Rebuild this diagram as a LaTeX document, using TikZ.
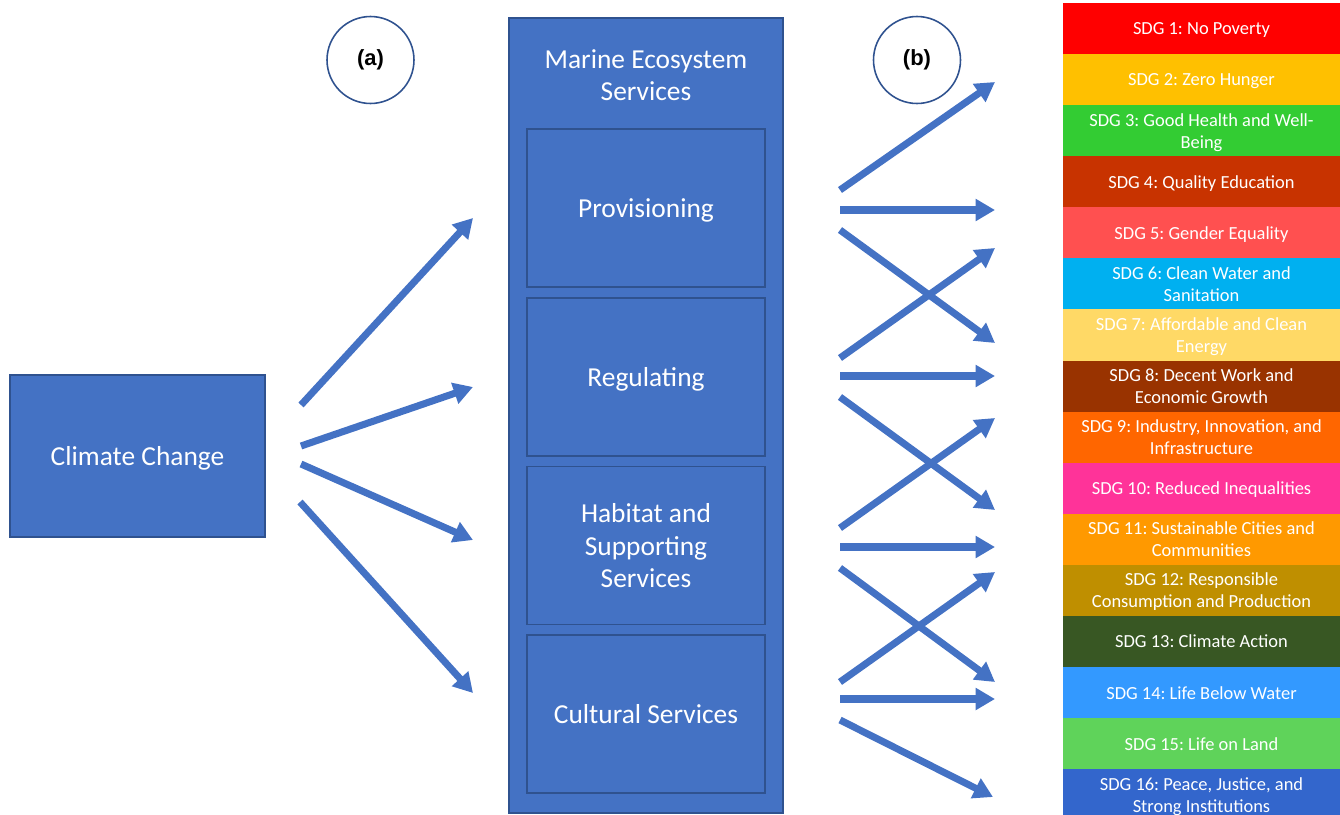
\documentclass[tikz,border=0pt]{standalone}
\usepackage{fontspec}
\setmainfont{Carlito}
\newfontfamily\arialfont{Liberation Sans}
\usetikzlibrary{arrows.meta,positioning}
\frenchspacing

\definecolor{boxblue}{HTML}{4472C4}
\definecolor{edgeblue}{HTML}{2F528F}
\definecolor{sdgone}{HTML}{FF0000}
\definecolor{sdgtwo}{HTML}{FFC000}
\definecolor{sdgthree}{HTML}{33CC33}
\definecolor{sdgfour}{HTML}{C83300}
\definecolor{sdgfive}{HTML}{FF5050}
\definecolor{sdgsix}{HTML}{00B0F0}
\definecolor{sdgseven}{HTML}{FFD966}
\definecolor{sdgeight}{HTML}{993300}
\definecolor{sdgnine}{HTML}{FF6600}
\definecolor{sdgten}{HTML}{FF3399}
\definecolor{sdgeleven}{HTML}{FF9900}
\definecolor{sdgtwelve}{HTML}{BF8F00}
\definecolor{sdgthirteen}{HTML}{385723}
\definecolor{sdgfourteen}{HTML}{3399FF}
\definecolor{sdgfifteen}{HTML}{5FD35A}
\definecolor{sdgsixteen}{HTML}{3366CC}

\begin{document}
\begin{tikzpicture}[x=0.02cm, y=-0.02cm, node distance=0pt,
    box/.style={rectangle, draw=edgeblue, fill=boxblue, text=white, line width=0.8pt, align=center, text depth=0pt, font=\fontsize{15.6}{18.7}\selectfont},
    tag/.style={circle, draw=edgeblue, line width=0.9pt, minimum size=1.74cm, font=\arialfont\bfseries\fontsize{12.5}{15}\selectfont},
    sdg/.style={rectangle, minimum width=5.54cm, minimum height=1.022cm, inner sep=0pt, outer sep=0pt, text=white, align=center, text depth=0pt, font=\fontsize{10.5}{12.5}\selectfont},
    flow/.style={draw=boxblue, line width=4pt, -{Triangle[length=11pt,width=12pt]}}]

    \useasboundingbox (0,0) rectangle (1340,815);

    \node[box, minimum width=5.1cm, minimum height=3.24cm] at (137.5, 456) (climate) {Climate Change};

    \node[tag] at (370.5, 60) (taga) {(a)};
    \node[tag] at (917, 60) (tagb) {(b)};

    \node[box, minimum width=5.48cm, minimum height=15.9cm] at (646, 415.5) (mes) {};
    \node[text=white, align=center, text depth=0pt, font=\fontsize{15.6}{18.7}\selectfont] at (646, 75) (mestitle) {Marine Ecosystem\\Services};
    \node[box, minimum width=4.76cm, minimum height=3.16cm] at (646, 208) (prov) {Provisioning};
    \node[box, minimum width=4.76cm, minimum height=3.16cm] at (646, 377) (reg) {Regulating};
    \node[box, minimum width=4.76cm, minimum height=3.16cm] at (646, 545.5) (hab) {Habitat and\\Supporting\\Services};
    \node[box, minimum width=4.76cm, minimum height=3.16cm] at (646, 714) (cult) {Cultural Services};

    \node[sdg, fill=sdgone] at (1201.5, 28.45) (sdg1) {SDG 1: No Poverty};
    \node[sdg, fill=sdgtwo, below=of sdg1] (sdg2) {SDG 2: Zero Hunger};
    \node[sdg, fill=sdgthree, below=of sdg2] (sdg3) {SDG 3: Good Health and Well-\\Being};
    \node[sdg, fill=sdgfour, below=of sdg3] (sdg4) {SDG 4: Quality Education};
    \node[sdg, fill=sdgfive, below=of sdg4] (sdg5) {SDG 5: Gender Equality};
    \node[sdg, fill=sdgsix, below=of sdg5] (sdg6) {SDG 6: Clean Water and\\Sanitation};
    \node[sdg, fill=sdgseven, below=of sdg6] (sdg7) {SDG 7: Affordable and Clean\\Energy};
    \node[sdg, fill=sdgeight, below=of sdg7] (sdg8) {SDG 8: Decent Work and\\Economic Growth};
    \node[sdg, fill=sdgnine, below=of sdg8] (sdg9) {SDG 9: Industry, Innovation, and\\Infrastructure};
    \node[sdg, fill=sdgten, below=of sdg9] (sdg10) {SDG 10: Reduced Inequalities};
    \node[sdg, fill=sdgeleven, below=of sdg10] (sdg11) {SDG 11: Sustainable Cities and\\Communities};
    \node[sdg, fill=sdgtwelve, below=of sdg11] (sdg12) {SDG 12: Responsible\\Consumption and Production};
    \node[sdg, fill=sdgthirteen, below=of sdg12] (sdg13) {SDG 13: Climate Action};
    \node[sdg, fill=sdgfourteen, below=of sdg13] (sdg14) {SDG 14: Life Below Water};
    \node[sdg, fill=sdgfifteen, below=of sdg14] (sdg15) {SDG 15: Life on Land};
    \node[sdg, fill=sdgsixteen, below=of sdg15] (sdg16) {SDG 16: Peace, Justice, and\\Strong Institutions};

    % climate change -> services
    \coordinate (cc1) at (301, 405);
    \coordinate (cc2) at (301, 446);
    \coordinate (cc3) at (301, 464);
    \coordinate (cc4) at (300, 502);
    \coordinate (sv1) at (473, 218);
    \coordinate (sv2) at (473, 387);
    \coordinate (sv3) at (473, 540);
    \coordinate (sv4) at (473, 693);

    \path (cc1) edge[flow] (sv1);
    \path (cc2) edge[flow] (sv2);
    \path (cc3) edge[flow] (sv3);
    \path (cc4) edge[flow] (sv4);

    % services -> goals
    \coordinate (os1) at (840, 190);
    \coordinate (os2) at (840, 210);
    \coordinate (os3) at (840, 230);
    \coordinate (os4) at (840, 358);
    \coordinate (os5) at (840, 376);
    \coordinate (os6) at (840, 397);
    \coordinate (os7) at (840, 528);
    \coordinate (os8) at (840, 547);
    \coordinate (os9) at (840, 568);
    \coordinate (os10) at (840, 682);
    \coordinate (os11) at (840, 699);
    \coordinate (os12) at (840, 720);
    \coordinate (og1) at (995, 82);
    \coordinate (og2) at (995, 210);
    \coordinate (og3) at (995, 343);
    \coordinate (og4) at (995, 248);
    \coordinate (og5) at (995, 376);
    \coordinate (og6) at (995, 510);
    \coordinate (og7) at (995, 418);
    \coordinate (og8) at (995, 547);
    \coordinate (og9) at (995, 682);
    \coordinate (og10) at (995, 572);
    \coordinate (og11) at (995, 699);
    \coordinate (og12) at (993, 797);

    \path (os1) edge[flow] (og1);
    \path (os2) edge[flow] (og2);
    \path (os3) edge[flow] (og3);
    \path (os4) edge[flow] (og4);
    \path (os5) edge[flow] (og5);
    \path (os6) edge[flow] (og6);
    \path (os7) edge[flow] (og7);
    \path (os8) edge[flow] (og8);
    \path (os9) edge[flow] (og9);
    \path (os10) edge[flow] (og10);
    \path (os11) edge[flow] (og11);
    \path (os12) edge[flow] (og12);

\end{tikzpicture}
\end{document}
